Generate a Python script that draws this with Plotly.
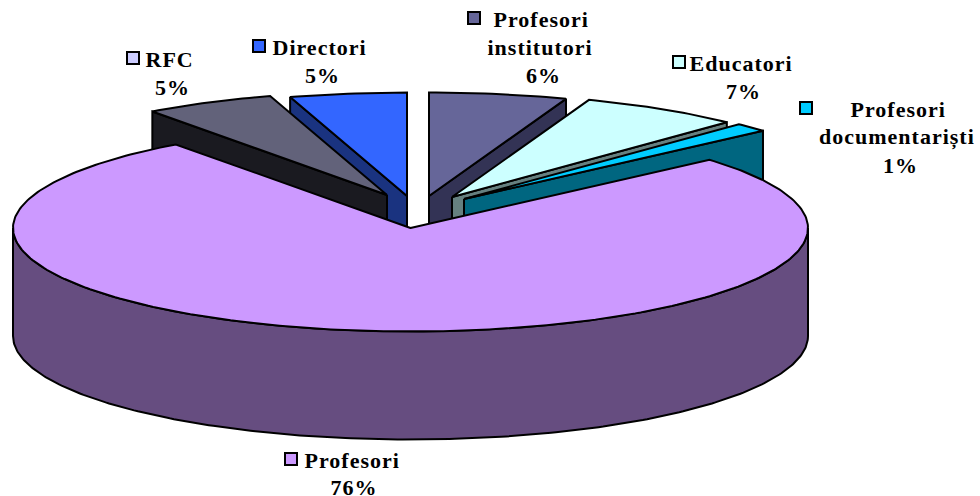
import numpy as np
import plotly.graph_objects as go

# Data, clockwise from the top of the pie
categories = ["Profesori institutori", "Educatori", "Profesori documentariști", "Profesori", "RFC", "Directori"]
values = [5.6, 6.55, 1.4, 76.4, 5.3, 4.75]
top_colors = ["#666699", "#CCFFFF", "#00CCFF", "#CC99FF", "#62627A", "#3366FF"]
side_colors = ["#333355", "#668080", "#006680", "#664D80", "#1A1A20", "#1A3380"]
legend_colors = ["#666699", "#CCFFFF", "#00CCFF", "#CC99FF", "#CCCCFF", "#3366FF"]

# Layout of the drawing, in page pixels
RX, RY, DEPTH = 397.5, 103.5, 108
CENTRE = (410.5, 228)
APEX = {"Profesori institutori": (429, 196), "Educatori": (452, 197),
        "Profesori documentariști": (464, 199), "Profesori": CENTRE,
        "RFC": (387, 195), "Directori": (407, 196)}
# which straight edge of each slice shows its cut face
CUT_EDGE = {"Profesori institutori": "end", "Educatori": "end",
            "Profesori documentariști": "end", "RFC": "start", "Directori": "start"}
DRAW_ORDER = ["Profesori institutori", "Directori", "Educatori",
              "Profesori documentariști", "RFC", "Profesori"]
LABELS = {
    "RFC": ([("RFC", 169, 59), (None, 172, 87)], (133, 58)),
    "Directori": ([("Directori", 319, 47), (None, 322, 75)], (259, 46)),
    "Profesori institutori": ([("Profesori", 541, 19), ("institutori", 540, 47), (None, 543, 75)], (474, 18)),
    "Educatori": ([("Educatori", 741, 63), (None, 743, 91)], (679, 62)),
    "Profesori documentariști": ([("Profesori", 898, 109), ("documentariști", 897, 137), (None, 900, 165)], (806, 108)),
    "Profesori": ([("Profesori", 352, 460), (None, 354, 487)], (291, 459)),
}

total = sum(values)
edges = np.concatenate([[0], np.cumsum(values)]) * 2 * np.pi / total
span = {c: (edges[i], edges[i + 1]) for i, c in enumerate(categories)}


def rim(apex, a):
    return apex[0] + RX * np.sin(a), apex[1] - RY * np.cos(a)


def poly(xs, ys, fill):
    return go.Scatter(x=list(xs), y=list(ys), mode="lines", fill="toself", fillcolor=fill,
                      line=dict(color="black", width=2), hoverinfo="skip", showlegend=False)


fig = go.Figure()
for name in DRAW_ORDER:
    i = categories.index(name)
    a0, a1 = span[name]
    apex = APEX[name]
    if name == "Profesori":
        # curved outer wall on the front half
        t = np.linspace(np.pi / 2, 3 * np.pi / 2, 240)
        x, y = rim(apex, t)
        fig.add_trace(poly(np.r_[x, x[::-1], x[0]], np.r_[y, y[::-1] + DEPTH, y[0]], side_colors[i]))
    else:
        a = a1 if CUT_EDGE[name] == "end" else a0
        ex, ey = rim(apex, a)
        fig.add_trace(poly([apex[0], ex, ex, apex[0], apex[0]],
                           [apex[1], ey, ey + DEPTH, apex[1] + DEPTH, apex[1]], side_colors[i]))
    t = np.linspace(a0, a1, max(12, int((a1 - a0) * 60)))
    x, y = rim(apex, t)
    fig.add_trace(poly(np.r_[apex[0], x, apex[0]], np.r_[apex[1], y, apex[1]], top_colors[i]))

font = dict(family="Liberation Serif", size=22, color="black")
annotations = []
for i, name in enumerate(categories):
    lines, key = LABELS[name]
    for text, tx, ty in lines:
        annotations.append(dict(x=tx, y=ty, xref="x", yref="y", showarrow=False, font=font,
                                text="<b>%s</b>" % (text or f"{round(values[i])}%")))
    fig.add_trace(go.Scatter(x=[key[0]], y=[key[1]], mode="markers", hoverinfo="skip", showlegend=False,
                             marker=dict(symbol="square", size=12, color=legend_colors[i],
                                         line=dict(color="black", width=2))))

fig.update_layout(width=980, height=496, margin=dict(l=0, r=0, t=0, b=0),
                  paper_bgcolor="white", plot_bgcolor="white", showlegend=False,
                  annotations=annotations,
                  xaxis=dict(range=[0, 980], visible=False, fixedrange=True),
                  yaxis=dict(range=[496, 0], visible=False, fixedrange=True))
post = ("document.body.style.margin='0';document.body.style.overflow='hidden';"
        "document.querySelectorAll('.annotation-text').forEach(function(t){t.style.letterSpacing='1px';});")
fig.write_html("out.html", config={"displayModeBar": False}, post_script=post)
